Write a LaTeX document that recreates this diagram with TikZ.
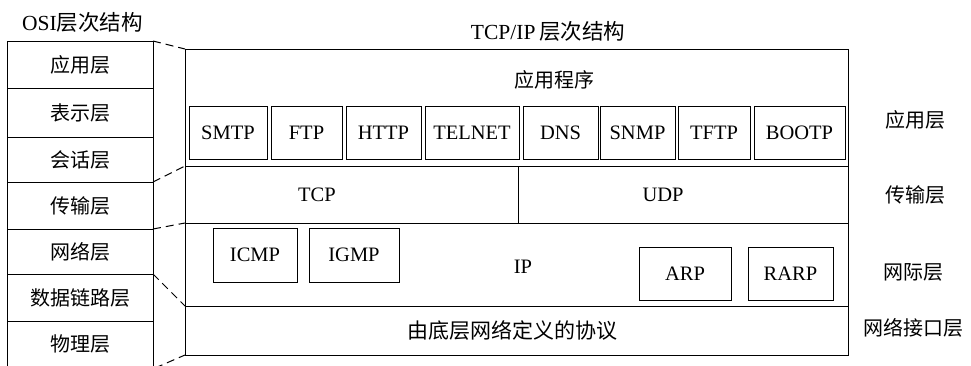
\documentclass[tikz,border=0pt]{standalone}
\usepackage{fontspec}
\setmainfont{Liberation Serif}
\newfontfamily\cjk{Noto Sans CJK SC}
\begin{document}
\begin{tikzpicture}[x=1pt,y={(0,-1pt)},
  line/.style={line width=1pt,black},
  dline/.style={line width=1pt,black,dash pattern=on 8pt off 5pt},
  lbl/.style={font=\fontsize{20.5}{22}\selectfont,inner sep=0pt},
  cn/.style={font=\fontsize{20}{22}\selectfont\cjk,inner sep=0pt},
  ttl/.style={font=\fontsize{21.5}{23}\selectfont,inner sep=0pt},
  pbox/.style={draw,line width=1pt,inner sep=0pt,font=\fontsize{20.5}{22}\selectfont}]
\useasboundingbox (0,0) rectangle (971,365);
% OSI column
\draw[line] (7,367) -- (7,41) -- (153,41) -- (153,367);
\foreach \y in {88,137,182,229,274,321} \draw[line] (7,\y) -- (153,\y);
\node[cn] (o1) at (80,64.5) {应用层};
\node[cn] (o2) at (80,112.5) {表示层};
\node[cn] (o3) at (80,159.5) {会话层};
\node[cn] (o4) at (80,205.5) {传输层};
\node[cn] (o5) at (80,251.5) {网络层};
\node[cn] (o6) at (80,297.5) {数据链路层};
\node[cn] (o7) at (80,344) {物理层};
\node[ttl,anchor=west] (t1) at (22,22) {OSI{\cjk 层次结构}};
% TCP/IP block
\draw[line] (185,49) rectangle (848,355);
\draw[line] (185,166) -- (848,166);
\draw[line] (185,223) -- (848,223);
\draw[line] (185,306) -- (848,306);
\draw[line] (518,166) -- (518,223);
\node[ttl] (t2) at (548,31) {TCP/IP\,{\cjk 层次结构}};
\node[cn] (app) at (554,80) {应用程序};
\node[pbox,minimum height=53pt,minimum width=78pt] (smtp) at (228,132.5) {SMTP};
\node[pbox,minimum height=53pt,minimum width=71pt] (ftp) at (306.5,132.5) {FTP};
\node[pbox,minimum height=53pt,minimum width=75pt] (http) at (383.5,132.5) {HTTP};
\node[pbox,minimum height=53pt,minimum width=94pt] (telnet) at (472,132.5) {TELNET};
\node[pbox,minimum height=53pt,minimum width=75pt] (dns) at (560.5,132.5) {DNS};
\node[pbox,minimum height=53pt,minimum width=75pt] (snmp) at (637.5,132.5) {SNMP};
\node[pbox,minimum height=53pt,minimum width=72pt] (tftp) at (714,132.5) {TFTP};
\node[pbox,minimum height=53pt,minimum width=91pt] (bootp) at (799.5,132.5) {BOOTP};
\node[lbl] (tcp) at (317,195) {TCP};
\node[lbl] (udp) at (663,195) {UDP};
\node[pbox,minimum height=54pt,minimum width=84pt] (icmp) at (255,255) {ICMP};
\node[pbox,minimum height=54pt,minimum width=90pt] (igmp) at (354,255) {IGMP};
\node[lbl] (ip) at (523,267) {IP};
\node[pbox,minimum height=53pt,minimum width=92pt] (arp) at (685,273.5) {ARP};
\node[pbox,minimum height=53pt,minimum width=85pt] (rarp) at (790.5,273.5) {RARP};
\node[cn,font=\fontsize{21}{22}\selectfont\cjk] (ni) at (512,330) {由底层网络定义的协议};
% right labels
\node[cn] (r1) at (915,120) {应用层};
\node[cn] (r2) at (915,195) {传输层};
\node[cn] (r3) at (913,272) {网际层};
\node[cn] (r4) at (913,328) {网络接口层};
% dashed connectors
\coordinate (a1) at (153,41); \coordinate (b1) at (185,49);
\coordinate (a2) at (153,182); \coordinate (b2) at (185,166);
\coordinate (a3) at (153,229); \coordinate (b3) at (185,223);
\coordinate (a4) at (153,274); \coordinate (b4) at (185,306);
\coordinate (a5) at (155,368); \coordinate (b5) at (185,355);
\foreach \i in {1,...,5} \draw[dline] (a\i) -- (b\i);
\end{tikzpicture}
\end{document}
